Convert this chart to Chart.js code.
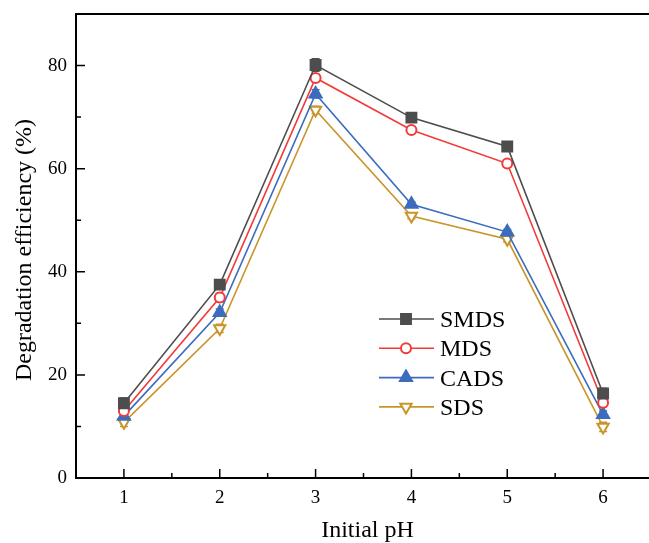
<!DOCTYPE html>
<html>
<head>
<meta charset="utf-8">
<script src="https://cdn.jsdelivr.net/npm/chart.js@4"></script>
<style>
  html, body { margin: 0; padding: 0; background: #fff; overflow: hidden; }
  #wrap { width: 651px; height: 543px; }
</style>
</head>
<body>
<div id="wrap"><canvas id="chart" width="651" height="543"></canvas></div>
<script>
// pH inicial y eficiencia de degradación (%)
const phValues = [1, 2, 3, 4, 5, 6];
const smds = [14.5, 37.5, 80.1, 69.9, 64.3, 16.4];
const mds  = [13.0, 35.0, 77.6, 67.5, 61.0, 14.6];
const cads = [12.0, 32.1, 74.5, 53.1, 47.7, 12.3];
const sds  = [10.8, 29.0, 71.4, 50.8, 46.3, 9.9];
// barras de error
const smdsErr = [1.0, 0.8, 1.2, 0.6, 0.6, 1.0];
const mdsErr  = [0.8, 0.8, 0.7, 0.6, 0.6, 0.8];
const cadsErr = [0.7, 0.7, 0.8, 0.5, 0.5, 0.7];
const sdsErr  = [0.8, 0.8, 0.7, 0.5, 0.5, 0.9];

const yTicks = [0, 20, 40, 60, 80];
const seriesNames = ['SMDS', 'MDS', 'CADS', 'SDS'];

const FONT = '"Liberation Serif", "Times New Roman", serif';

function toPoints(values) {
    return values.map((v, i) => ({ x: phValues[i], y: v }));
}

function makeSet(label, values, errs, color, style) {
    return Object.assign({
        label: label,
        data: toPoints(values),
        errors: errs,
        borderColor: color,
        backgroundColor: color,
        pointBorderColor: color,
        borderWidth: 1.6,
        pointBorderWidth: 2,
        pointRadius: 5.5,
        pointHoverRadius: 5.5,
        tension: 0,
        fill: false
    }, style);
}

const datasets = [
    makeSet(seriesNames[0], smds, smdsErr, '#4d4d4d', { pointStyle: 'rect', pointRadius: 7 }),
    makeSet(seriesNames[1], mds, mdsErr, '#f23a3a', { pointStyle: 'circle', pointBackgroundColor: '#ffffff', pointRadius: 5 }),
    makeSet(seriesNames[2], cads, cadsErr, '#3b6cbd', { pointStyle: 'triangle', pointRadius: 7 }),
    makeSet(seriesNames[3], sds, sdsErr, '#c9952b', { pointStyle: 'triangle', pointRotation: 180, pointBackgroundColor: '#ffffff', pointRadius: 6.5 })
];

// sin márgenes extra para las etiquetas de los ejes
function fixPadding(s) {
    s.paddingTop = 0; s.paddingBottom = 0;
    s.paddingLeft = 0; s.paddingRight = 0;
}

// Marco, marcas interiores, barras de error, leyenda y títulos
const decorPlugin = {
    id: 'decor',
    beforeDatasetsDraw(chart) {
        const ctx = chart.ctx;
        const x = chart.scales.x, y = chart.scales.y;
        ctx.save();
        chart.data.datasets.forEach(ds => {
            ctx.strokeStyle = ds.borderColor;
            ctx.lineWidth = 1.5;
            ds.data.forEach((p, i) => {
                const e = ds.errors[i];
                const px = x.getPixelForValue(p.x);
                const y1 = y.getPixelForValue(p.y + e);
                const y2 = y.getPixelForValue(p.y - e);
                ctx.beginPath();
                ctx.moveTo(px, y1); ctx.lineTo(px, y2);
                ctx.moveTo(px - 4, y1); ctx.lineTo(px + 4, y1);
                ctx.moveTo(px - 4, y2); ctx.lineTo(px + 4, y2);
                ctx.stroke();
            });
        });
        ctx.restore();
    },
    afterDraw(chart) {
        const ctx = chart.ctx;
        const x = chart.scales.x, y = chart.scales.y;
        const a = chart.chartArea;
        ctx.save();
        ctx.strokeStyle = '#000';
        ctx.lineWidth = 2;
        ctx.beginPath();
        ctx.moveTo(a.left, a.top); ctx.lineTo(a.right + 2, a.top);
        ctx.moveTo(a.left, a.top - 1); ctx.lineTo(a.left, a.bottom + 1);
        ctx.moveTo(a.left - 1, a.bottom); ctx.lineTo(a.right + 2, a.bottom);
        ctx.stroke();

        ctx.lineWidth = 1.5;
        ctx.beginPath();
        for (let v = 1; v <= 6.5; v += 0.5) {
            const px = x.getPixelForValue(v);
            const len = Number.isInteger(v) ? 9 : 5;
            ctx.moveTo(px, a.bottom); ctx.lineTo(px, a.bottom - len);
        }
        for (let v = 10; v <= 80; v += 10) {
            const py = y.getPixelForValue(v);
            const len = v % 20 === 0 ? 9 : 5;
            ctx.moveTo(a.left, py); ctx.lineTo(a.left + len, py);
        }
        ctx.stroke();

        // leyenda
        ctx.font = '24px ' + FONT;
        ctx.textBaseline = 'alphabetic';
        ctx.textAlign = 'left';
        chart.data.datasets.forEach((ds, i) => {
            const ly = 319 + i * 29.3;
            ctx.strokeStyle = ds.borderColor;
            ctx.lineWidth = 1.6;
            ctx.beginPath();
            ctx.moveTo(379, ly); ctx.lineTo(434, ly);
            ctx.stroke();
            ctx.lineWidth = 2;
            ctx.fillStyle = ds.pointBackgroundColor || ds.borderColor;
            Chart.helpers.drawPoint(ctx, {
                pointStyle: ds.pointStyle,
                rotation: ds.pointRotation || 0,
                radius: ds.pointRadius,
                borderWidth: 2
            }, 406, ly);
            ctx.fillStyle = '#000';
            ctx.fillText(ds.label, 440, ly + 8);
        });

        // títulos de ejes
        ctx.fillStyle = '#000';
        ctx.textAlign = 'center';
        ctx.fillText('Initial pH', (a.left + a.right) / 2 + 4, 537);
        ctx.translate(31, (a.top + a.bottom) / 2 + 4);
        ctx.rotate(-Math.PI / 2);
        ctx.fillText('Degradation efficiency (%)', 0, 0);
        ctx.restore();
    }
};

new Chart(document.getElementById('chart'), {
    type: 'line',
    data: { datasets: datasets },
    plugins: [decorPlugin],
    options: {
        responsive: false,
        animation: false,
        layout: { autoPadding: false, padding: { top: 14, right: 0, left: 0, bottom: 0 } },
        plugins: {
            legend: { display: false },
            tooltip: { enabled: false }
        },
        scales: {
            x: {
                type: 'linear',
                min: 0.5,
                max: 6.5,
                afterBuildTicks: s => { s.ticks = phValues.map(v => ({ value: v })); },
                afterFit: s => { s.height = 65; fixPadding(s); },
                grid: { display: false, drawTicks: false },
                border: { display: false },
                ticks: { color: '#000', padding: 9, font: { family: FONT, size: 19 } }
            },
            y: {
                min: 0,
                max: 90,
                afterBuildTicks: s => { s.ticks = yTicks.map(v => ({ value: v })); },
                afterFit: s => { s.width = 76; fixPadding(s); },
                grid: { display: false, drawTicks: false },
                border: { display: false },
                ticks: { color: '#000', padding: 9, font: { family: FONT, size: 19 } }
            }
        }
    }
});
</script>
</body>
</html>
